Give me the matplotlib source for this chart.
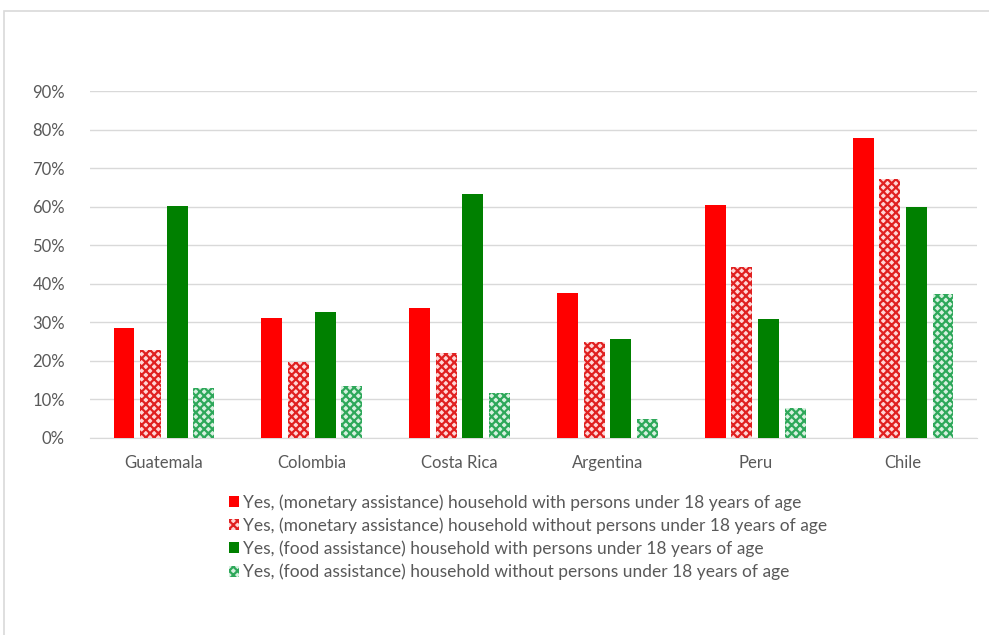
import matplotlib
matplotlib.use("Agg")
import matplotlib.pyplot as plt
from matplotlib.patches import Rectangle
from matplotlib.ticker import PercentFormatter
import numpy as np

countries = ["Guatemala", "Colombia", "Costa Rica", "Argentina", "Peru", "Chile"]
series_labels = [
    "Yes, (monetary assistance) household with persons under 18 years of age",
    "Yes, (monetary assistance) household without persons under 18 years of age",
    "Yes, (food assistance) household with persons under 18 years of age",
    "Yes, (food assistance) household without persons under 18 years of age",
]
monetary_with = [28.5, 31.2, 33.7, 37.6, 60.4, 77.7]
monetary_without = [22.8, 19.8, 22.0, 25.0, 44.3, 67.1]
food_with = [60.2, 32.8, 63.3, 25.7, 30.8, 60.0]
food_without = [12.9, 13.4, 11.8, 4.9, 7.8, 37.4]

plt.rcParams["font.family"] = ["Lato", "DejaVu Sans"]
plt.rcParams["hatch.linewidth"] = 1.6

fig = plt.figure(figsize=(9.89, 6.35), dpi=100)
fig.patches.append(Rectangle((4 / 989, -0.01), 1.0, 1 - 11 / 635 + 0.01,
                             transform=fig.transFigure, fill=False,
                             edgecolor="#d9d9d9", linewidth=1.2))

ax = fig.add_axes([90 / 989, 1 - 438 / 635, 887 / 989, (438 - 91) / 635])

x = np.arange(len(countries))
width = 0.142
step = 0.18
styles = [
    dict(color="#ff0000"),
    dict(facecolor="#ffd6d6", edgecolor="#e02020", hatch="xxxx", linewidth=0),
    dict(color="#008000"),
    dict(facecolor="#d8f0e0", edgecolor="#2ea85a", hatch="xxxx", linewidth=0),
]
data = [monetary_with, monetary_without, food_with, food_without]
for i, (vals, st, lab) in enumerate(zip(data, styles, series_labels)):
    ax.bar(x + (i - 1.5) * step, vals, width, label=lab, zorder=3, **st)

ax.set_xlim(-0.5, len(countries) - 0.5)
ax.set_ylim(0, 90)
ax.set_yticks(np.arange(0, 91, 10))
ax.yaxis.set_major_formatter(PercentFormatter(decimals=0))
ax.set_xticks(x)
ax.set_xticklabels(countries)
ax.grid(axis="y", color="#d9d9d9", linewidth=1, zorder=0)
for s in ["top", "right", "left"]:
    ax.spines[s].set_visible(False)
ax.spines["bottom"].set_color("#d9d9d9")
ax.tick_params(axis="both", length=0, colors="#595959", labelsize=12)
ax.tick_params(axis="x", pad=12)
ax.tick_params(axis="y", pad=18)

leg = fig.legend(loc="upper center", bbox_to_anchor=(528 / 989, 1 - 482 / 635),
                 ncol=1, frameon=False, fontsize=12.5, handlelength=0.6,
                 handleheight=0.6, handletextpad=0.2, labelspacing=0.38,
                 labelcolor="#595959", borderpad=0.2)

fig.savefig("out.png", dpi=100, facecolor="white")
